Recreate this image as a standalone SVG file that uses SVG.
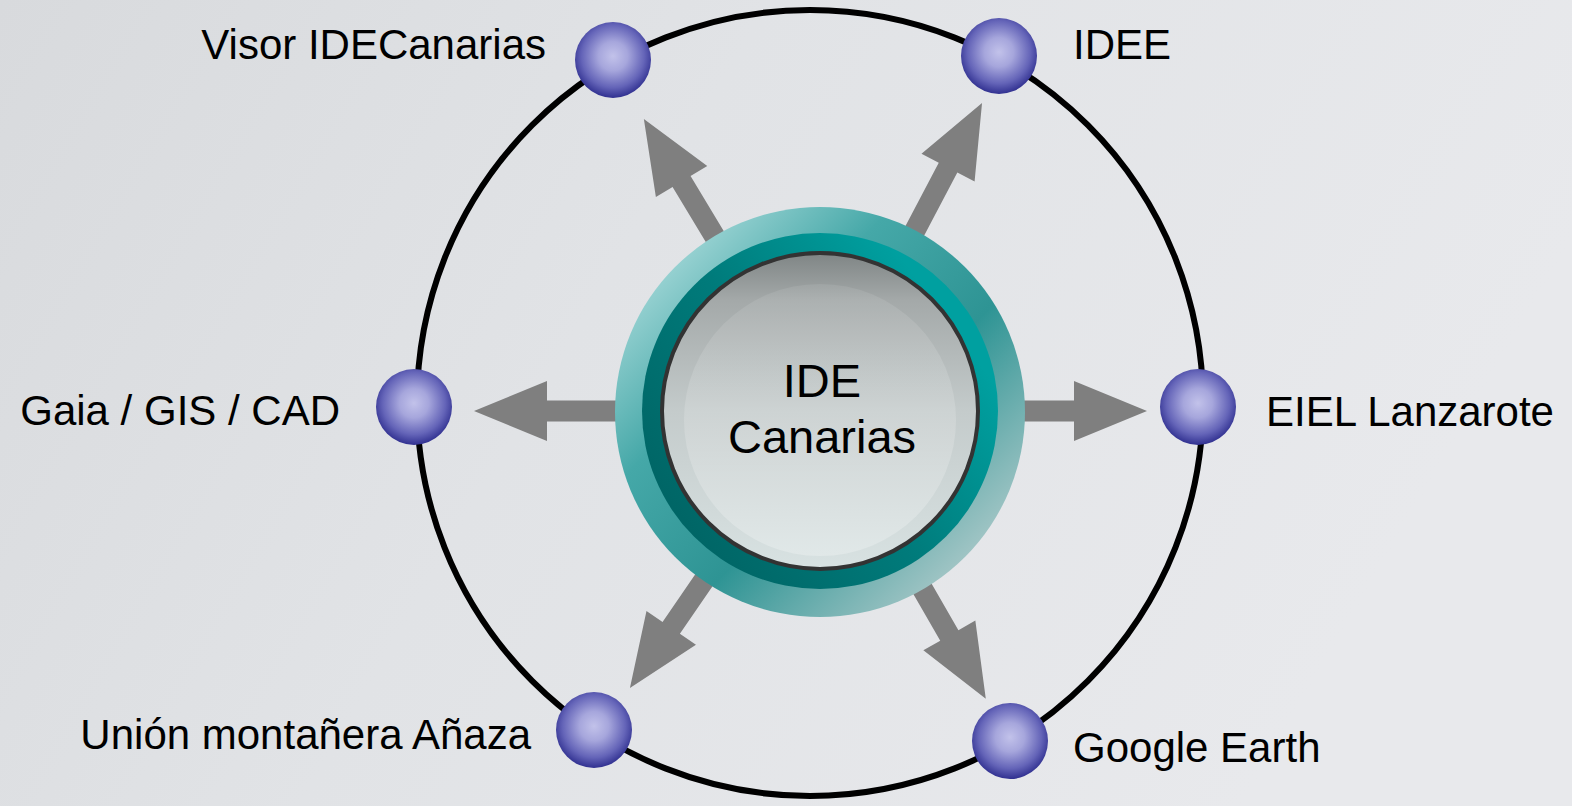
<svg xmlns="http://www.w3.org/2000/svg" width="1572" height="806" viewBox="0 0 1572 806">
  <defs>
    <linearGradient id="bg" x1="0" y1="0" x2="1" y2="0.3">
      <stop offset="0" stop-color="#d8dadd"/>
      <stop offset="0.45" stop-color="#e1e3e6"/>
      <stop offset="1" stop-color="#e8e9ec"/>
    </linearGradient>
    <radialGradient id="ball" cx="0.5" cy="0.45" r="0.55">
      <stop offset="0" stop-color="#c2c2ea"/>
      <stop offset="0.35" stop-color="#a6a6dc"/>
      <stop offset="0.75" stop-color="#6464b8"/>
      <stop offset="1" stop-color="#303090"/>
    </radialGradient>
    <linearGradient id="outer" x1="0.1" y1="0.1" x2="0.9" y2="0.9">
      <stop offset="0" stop-color="#a8dada"/>
      <stop offset="0.3" stop-color="#45a8a8"/>
      <stop offset="0.6" stop-color="#2e9494"/>
      <stop offset="1" stop-color="#b2cccc"/>
    </linearGradient>
    <linearGradient id="mid" x1="0.15" y1="0.85" x2="0.9" y2="0.3">
      <stop offset="0" stop-color="#006666"/>
      <stop offset="0.5" stop-color="#007b7b"/>
      <stop offset="1" stop-color="#00a0a0"/>
    </linearGradient>
    <linearGradient id="inner" x1="0" y1="0" x2="0" y2="1">
      <stop offset="0" stop-color="#7f8585"/>
      <stop offset="0.15" stop-color="#a4a9a9"/>
      <stop offset="0.5" stop-color="#c4cbcb"/>
      <stop offset="1" stop-color="#d8e2e2"/>
    </linearGradient>
    <linearGradient id="hl" x1="0" y1="0" x2="0" y2="1">
      <stop offset="0" stop-color="#ffffff" stop-opacity="0.08"/>
      <stop offset="1" stop-color="#ffffff" stop-opacity="0.25"/>
    </linearGradient>
  </defs>
  <style>
    .lbl { font-family: "Liberation Sans", Arial, sans-serif; font-size: 42px; fill: #000; }
    .ctr { font-family: "Liberation Sans", Arial, sans-serif; font-size: 47px; fill: #000; text-anchor: middle; }
    .arrow { fill: #7f7f7f; }
    .ball { fill: url(#ball); }
  </style>

  <rect x="0" y="0" width="1572" height="806" fill="url(#bg)"/>

  <g id="ring">
    <circle cx="810" cy="403" r="393" fill="none" stroke="#000" stroke-width="6"/>
  </g>

  <g id="connectors">
    <polygon class="arrow" transform="translate(820,411) rotate(-121.1)" points="150,-10.5 268,-10.5 268,-30 341,0 268,30 268,10.5 150,10.5"/>
    <polygon class="arrow" transform="translate(820,411) rotate(-62.25)" points="150,-10.5 275,-10.5 275,-30 348,0 275,30 275,10.5 150,10.5"/>
    <polygon class="arrow" transform="translate(820,411) rotate(180)" points="150,-10.5 273,-10.5 273,-30 346,0 273,30 273,10.5 150,10.5"/>
    <polygon class="arrow" transform="translate(820,411)" points="150,-10.5 254,-10.5 254,-30 327,0 254,30 254,10.5 150,10.5"/>
    <polygon class="arrow" transform="translate(820,411) rotate(124.45)" points="150,-10.5 263,-10.5 263,-30 336,0 263,30 263,10.5 150,10.5"/>
    <polygon class="arrow" transform="translate(820,411) rotate(60.04)" points="150,-10.5 259,-10.5 259,-30 332,0 259,30 259,10.5 150,10.5"/>
  </g>

  <g id="center">
    <circle cx="820" cy="412" r="205" fill="url(#outer)"/>
    <circle cx="820" cy="411" r="178" fill="url(#mid)"/>
    <circle cx="820" cy="411" r="158" fill="url(#inner)" stroke="#333333" stroke-width="4"/>
    <circle cx="820" cy="420" r="136" fill="url(#hl)"/>
    <text class="ctr" x="822" y="397">IDE</text>
    <text class="ctr" x="822" y="453">Canarias</text>
  </g>

  <g id="visor">
    <circle class="ball" cx="613" cy="60" r="38"/>
    <text class="lbl" x="546" y="59" text-anchor="end">Visor IDECanarias</text>
  </g>
  <g id="idee">
    <circle class="ball" cx="999" cy="56" r="38"/>
    <text class="lbl" x="1073" y="59">IDEE</text>
  </g>
  <g id="gaia">
    <circle class="ball" cx="414" cy="407" r="38"/>
    <text class="lbl" x="340" y="425" text-anchor="end">Gaia / GIS / CAD</text>
  </g>
  <g id="eiel">
    <circle class="ball" cx="1198" cy="407" r="38"/>
    <text class="lbl" x="1266" y="426">EIEL Lanzarote</text>
  </g>
  <g id="union">
    <circle class="ball" cx="594" cy="730" r="38"/>
    <text class="lbl" x="531" y="749" text-anchor="end">Unión montañera Añaza</text>
  </g>
  <g id="google">
    <circle class="ball" cx="1010" cy="741" r="38"/>
    <text class="lbl" x="1073" y="762">Google Earth</text>
  </g>
</svg>
